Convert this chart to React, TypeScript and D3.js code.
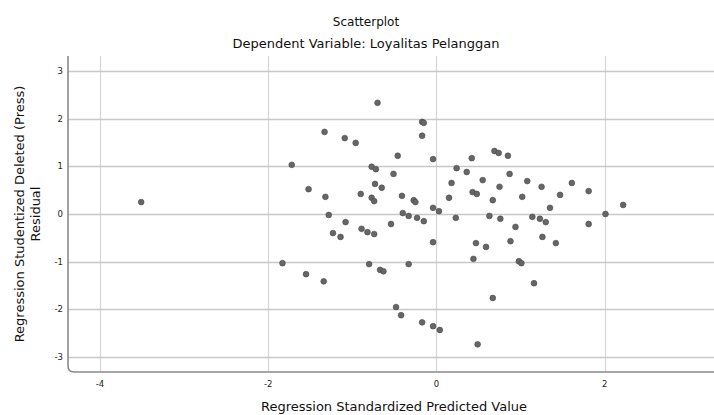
import React from "react";
import * as d3 from "d3";

const title = "Scatterplot";
const subtitle = "Dependent Variable: Loyalitas Pelanggan";
const xLabel = "Regression Standardized Predicted Value";
const yLabelLines = ["Regression Studentized Deleted (Press)", "Residual"];

const xTicks = [-4, -2, 0, 2];
const yTicks = [3, 2, 1, 0, -1, -2, -3];

// standardized predicted values
const predicted = [
  -3.51, -1.83, -1.72, -1.55, -1.52, -1.34, -1.33, -1.32, -1.28, -1.23,
  -1.14, -1.09, -1.08, -0.96, -0.9, -0.89, -0.82, -0.74, -0.8, -0.77,
  -0.72, -0.73, -0.65, -0.77, -0.74, -0.7, -0.67, -0.63, -0.54, -0.51,
  -0.48, -0.46, -0.42, -0.41, -0.4, -0.33, -0.33, -0.27, -0.25, -0.23,
  -0.17, -0.15, -0.17, -0.15, -0.17, -0.04, -0.04, 0.03, -0.04, -0.04,
  0.04, 0.15, 0.18, 0.23, 0.24, 0.36, 0.42, 0.43, 0.48, 0.44,
  0.47, 0.49, 0.55, 0.59, 0.63, 0.67, 0.67, 0.69, 0.74, 0.75,
  0.76, 0.85, 0.87, 0.88, 0.94, 0.98, 1.01, 1.02, 1.08, 1.14,
  1.16, 1.23, 1.25, 1.26, 1.3, 1.35, 1.42, 1.47, 1.61, 1.81,
  1.81, 2.01, 2.22,
];

// studentized deleted residuals
const residual = [
  0.25, -1.03, 1.03, -1.26, 0.52, -1.41, 1.72, 0.36, -0.02, -0.4,
  -0.48, 1.59, -0.17, 1.49, 0.42, -0.31, -0.38, -0.42, -1.05, 0.99,
  0.94, 0.63, 0.55, 0.34, 0.27, 2.33, -1.17, -1.2, -0.21, 0.84,
  -1.95, 1.22, -2.12, 0.38, 0.02, -0.04, -1.05, 0.29, 0.25, -0.08,
  1.93, 1.91, 1.64, -0.15, -2.27, 1.15, 0.13, 0.06, -0.59, -2.35,
  -2.43, 0.34, 0.65, -0.08, 0.96, 0.88, 1.17, 0.46, 0.42, -0.94,
  -0.61, -2.73, 0.71, -0.69, -0.04, 0.29, -1.76, 1.32, 1.28, 0.57,
  -0.1, 1.22, 0.84, -0.57, -0.27, -0.99, -1.03, 0.36, 0.69, -0.06,
  -1.45, -0.1, 0.57, -0.48, -0.17, 0.13, -0.61, 0.4, 0.65, 0.48,
  -0.21, 0.0, 0.19,
];

const W = 714;
const H = 415;
const plot = { left: 68, right: 714, top: 56, bottom: 372 };
const font = "'DejaVu Sans', Verdana, sans-serif";

export default function App() {
  const x = d3.scaleLinear().domain([-4.38, 3.3]).range([plot.left, plot.right]);
  const y = d3.scaleLinear().domain([-3.31, 3.31]).range([plot.bottom, plot.top]);
  const points = predicted.map((p, i) => ({ px: p, py: residual[i] }));
  const r = 6;
  const framePath = `M${plot.left},${plot.top} L${plot.left},${plot.bottom - r} Q${plot.left},${plot.bottom} ${plot.left + r},${plot.bottom} L${plot.right},${plot.bottom}`;
  const yMid = (plot.top + plot.bottom) / 2;

  return (
    <svg
      width={W}
      height={H}
      style={{ position: "absolute", left: 0, top: 0, background: "#fff" }}
      fontFamily={font}
    >
      <rect x={0} y={0} width={W} height={H} fill="#fff" />
      <text x={366} y={26} textAnchor="middle" fontSize={12} fill="#111">
        {title}
      </text>
      <text x={366} y={48} textAnchor="middle" fontSize={13} fill="#111">
        {subtitle}
      </text>

      {/* grid */}
      {xTicks.map((t) => (
        <line
          key={"gx" + t}
          x1={Math.round(x(t)) + 0.5}
          x2={Math.round(x(t)) + 0.5}
          y1={plot.top}
          y2={plot.bottom}
          stroke="#d6d6d6"
          strokeWidth={1.2}
        />
      ))}
      {yTicks.map((t) => (
        <line
          key={"gy" + t}
          x1={plot.left}
          x2={plot.right}
          y1={Math.round(y(t)) + 0.5}
          y2={Math.round(y(t)) + 0.5}
          stroke="#c8c8c8"
          strokeWidth={1.3}
        />
      ))}

      <path d={framePath} fill="none" stroke="#8a8a8a" strokeWidth={1.6} />

      {/* tick labels */}
      {yTicks.map((t) => (
        <text
          key={"ly" + t}
          x={63}
          y={y(t) + 3}
          textAnchor="end"
          fontSize={8.5}
          fill="#222"
        >
          {t}
        </text>
      ))}
      {xTicks.map((t) => (
        <text
          key={"lx" + t}
          x={x(t)}
          y={387}
          textAnchor="middle"
          fontSize={8.5}
          fill="#222"
        >
          {t}
        </text>
      ))}

      {/* axis titles */}
      <text x={394} y={411} textAnchor="middle" fontSize={13} fill="#111">
        {xLabel}
      </text>
      <g transform={`translate(24, ${yMid}) rotate(-90)`}>
        <text x={0} y={0} textAnchor="middle" fontSize={13} fill="#111">
          {yLabelLines[0]}
        </text>
        <text x={0} y={16} textAnchor="middle" fontSize={13} fill="#111">
          {yLabelLines[1]}
        </text>
      </g>

      {/* points */}
      {points.map((d, i) => (
        <circle
          key={i}
          cx={x(d.px)}
          cy={y(d.py)}
          r={2.9}
          fill="#666"
          stroke="#4a4a4a"
          strokeWidth={0.6}
        />
      ))}
    </svg>
  );
}
